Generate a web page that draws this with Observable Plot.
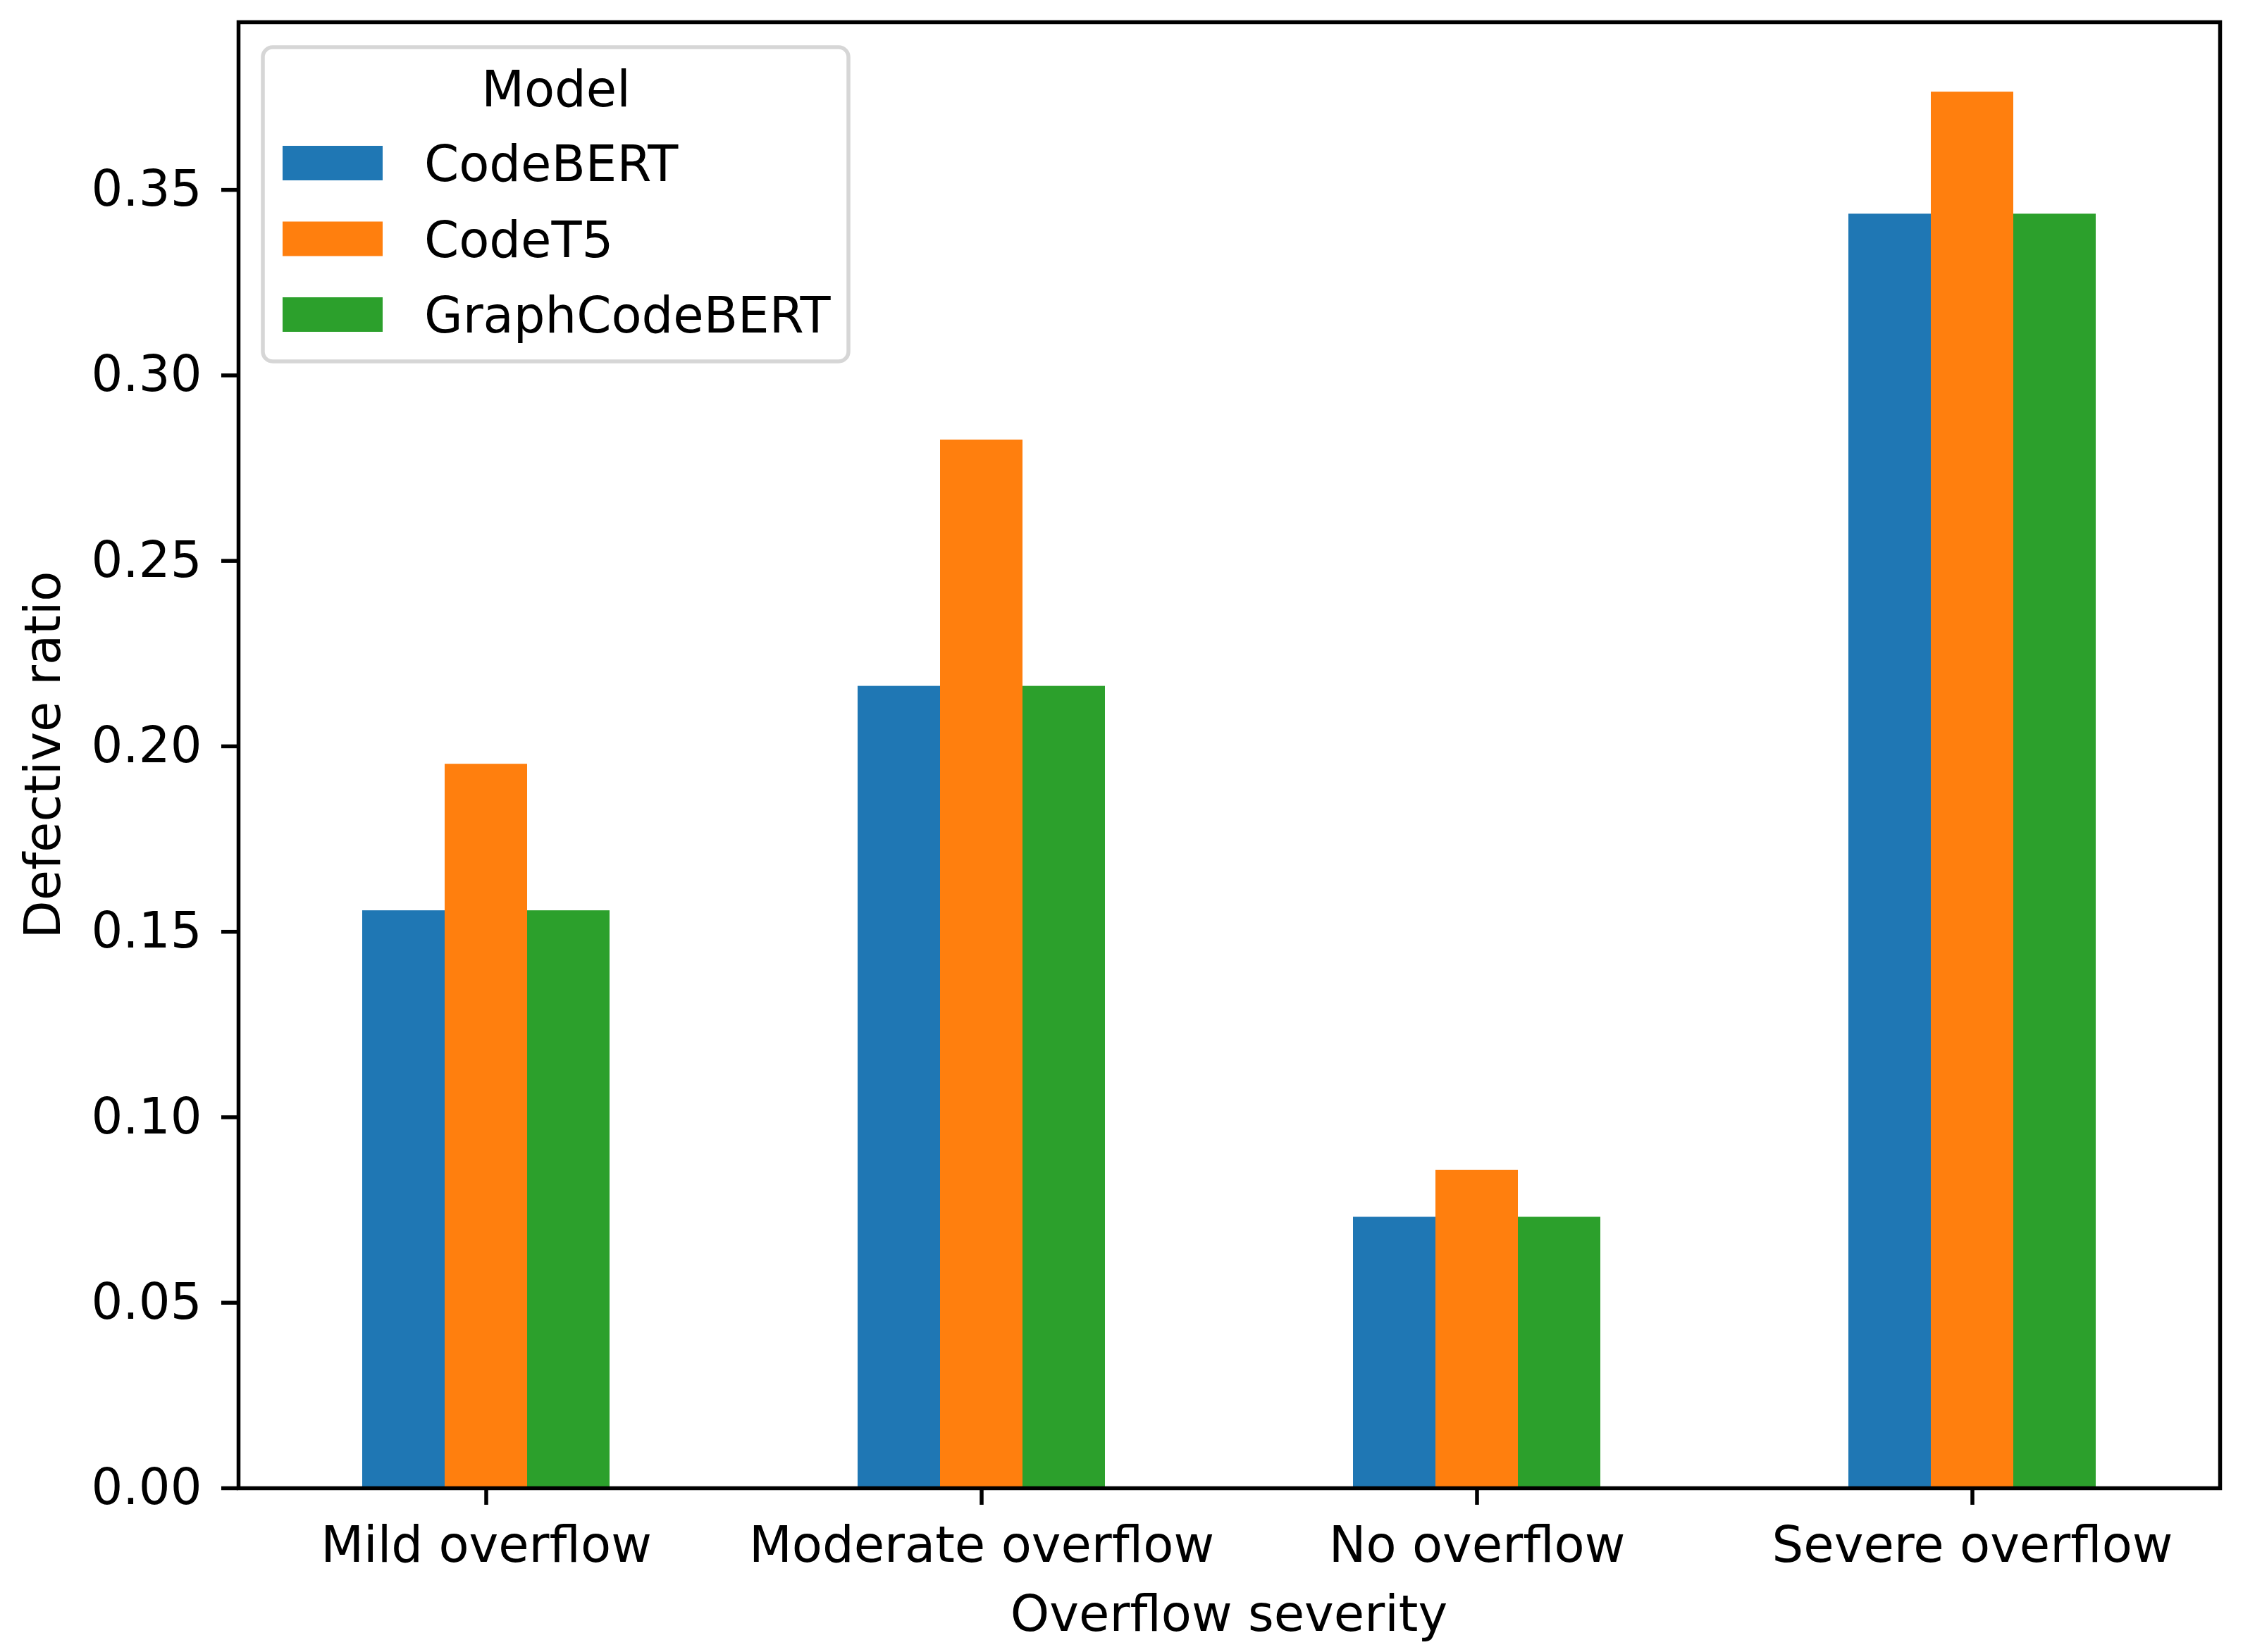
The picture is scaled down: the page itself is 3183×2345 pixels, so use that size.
<!DOCTYPE html>
<html><head><meta charset="utf-8">
<script src="https://cdn.jsdelivr.net/npm/d3@7"></script>
<script src="https://cdn.jsdelivr.net/npm/@observablehq/plot@0.6"></script>
<style>body{margin:0;background:#fff} #chart{position:relative;width:3183px;height:2345px}</style>
</head><body><div id="chart"></div>
<script>
const categories = ["Mild overflow", "Moderate overflow", "No overflow", "Severe overflow"];
const models = ["CodeBERT", "CodeT5", "GraphCodeBERT"];
const codebert = [0.1557, 0.2162, 0.0731, 0.3435];
const codet5 = [0.1952, 0.2826, 0.0857, 0.3764];
const graphcodebert = [0.1557, 0.2162, 0.0731, 0.3435];
const colors = ["#1f77b4", "#ff7f0e", "#2ca02c"];
const yTicks = [0, 0.05, 0.10, 0.15, 0.20, 0.25, 0.30, 0.35];
const xLabel = "Overflow severity";
const yLabel = "Defective ratio";
const legendTitle = "Model";

const series = [codebert, codet5, graphcodebert];
const data = categories.flatMap((c, i) => models.map((m, j) => ({category: c, model: m, value: series[j][i]})));
const yMax = d3.max(data, d => d.value) * 1.05;

const W = 3183, H = 2345;
const mL = 337, mR = 32, mT = 31, mB = 233;
const FS = 70.5;

const plot = Plot.plot({
  width: W, height: H,
  marginLeft: mL, marginRight: mR, marginTop: mT, marginBottom: mB,
  style: {fontFamily: "'DejaVu Sans'", fontSize: FS + "px", background: "#fff", color: "#000", overflow: "visible"},
  fx: {domain: categories, padding: 0, label: null},
  x: {domain: models, paddingInner: 0, paddingOuter: 1.5, axis: null},
  y: {domain: [0, yMax], label: null},
  color: {domain: models, range: colors},
  marks: [
    Plot.barY(data, {fx: "category", x: "model", y: "value", fill: "model", inset: 0}),
    Plot.axisY({ticks: yTicks, tickFormat: d3.format(".2f"), tickSize: 24, tickPadding: 28, strokeWidth: 5.5, label: null}),
    Plot.axisFx({anchor: "bottom", tickSize: 24, tickPadding: 30, strokeWidth: 5.5, label: null}),
    Plot.frame({facet: "super", stroke: "#000", strokeWidth: 5.5})
  ]
});

const svg = d3.select(plot);
const font = "'DejaVu Sans'";
// axis labels
svg.append("text").attr("x", (mL + W - mR) / 2).attr("y", 2315)
  .attr("text-anchor", "middle").attr("font-family", font).attr("font-size", FS).attr("fill", "#000").text(xLabel);
svg.append("text").attr("transform", `translate(85,${(mT + H - mB) / 2}) rotate(-90)`)
  .attr("text-anchor", "middle").attr("font-family", font).attr("font-size", FS).attr("fill", "#000").text(yLabel);

// legend
const color = plot.scale("color");
const lg = svg.append("g");
lg.append("rect").attr("x", 373).attr("y", 67).attr("width", 831).attr("height", 446)
  .attr("rx", 14).attr("fill", "rgba(255,255,255,0.8)").attr("stroke", "#d6d6d6").attr("stroke-width", 5.5);
lg.append("text").attr("x", 789).attr("y", 151).attr("text-anchor", "middle")
  .attr("font-family", font).attr("font-size", FS).attr("fill", "#000").text(legendTitle);
models.forEach((m, i) => {
  const y0 = 207 + i * 107.5;
  lg.append("rect").attr("x", 401).attr("y", y0).attr("width", 142).attr("height", 49).attr("fill", color.apply(m));
  lg.append("text").attr("x", 602).attr("y", y0 + 50).attr("text-anchor", "start").attr("font-family", font).attr("font-size", FS)
    .attr("fill", "#000").text(m);
});

document.getElementById("chart").append(plot);
</script>
</body></html>
